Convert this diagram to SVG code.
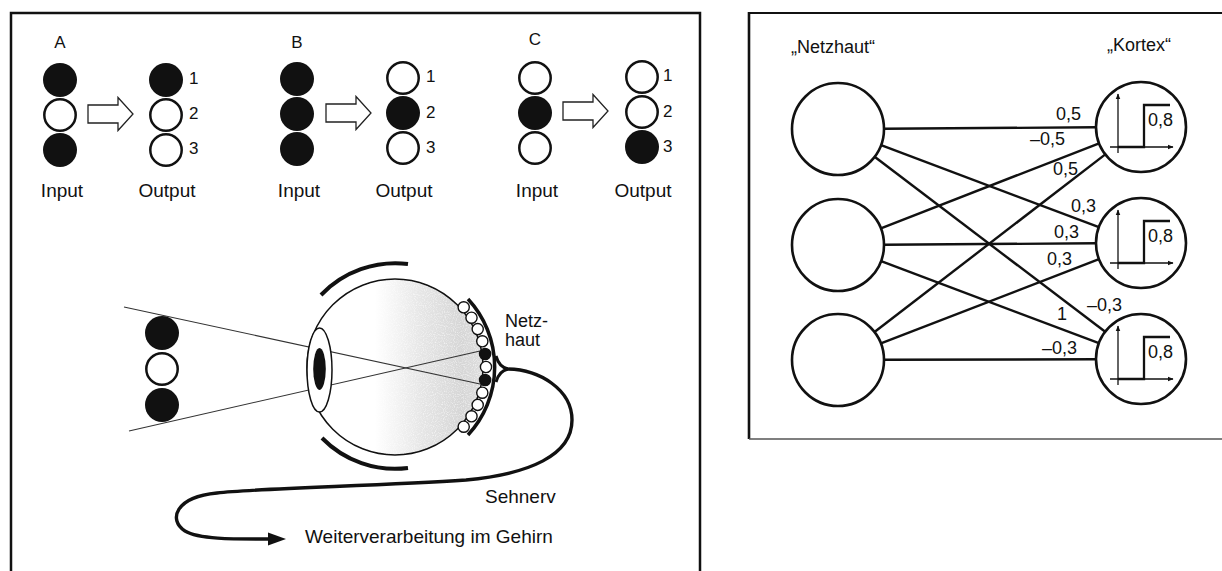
<svg xmlns="http://www.w3.org/2000/svg" width="1222" height="571" viewBox="0 0 1222 571">
  <defs>
    <style>
      .t { font-family: "Liberation Sans", Arial, Helvetica, sans-serif; fill: #111; }
      .lbl { font-size: 19px; }
      .num { font-size: 17px; }
      .w { font-size: 18px; }
      .frame { fill: none; stroke: #111; stroke-width: 2.5; }
      .on { fill: #111; }
      .off { fill: #fff; stroke: #111; stroke-width: 2.5; }
      .hollow { fill: #fff; stroke: #222; stroke-width: 1.3; stroke-linejoin: miter; }
      .edge { stroke: #111; stroke-width: 2.4; fill: none; }
      .node { fill: #fff; stroke: #111; stroke-width: 2.6; }
      .axis { stroke: #111; stroke-width: 1.3; fill: none; }
      .step { stroke: #111; stroke-width: 2.3; fill: none; }
      .ray { stroke: #333; stroke-width: 1.1; fill: none; }
      .thick { stroke: #111; stroke-width: 4; fill: none; stroke-linecap: butt; }
      .nerve { stroke: #111; stroke-width: 3.4; fill: none; stroke-linecap: round; }
      .cell { fill: #fff; stroke: #111; stroke-width: 1.4; }
      .cellon { fill: #111; stroke: #111; stroke-width: 1.4; }
    </style>
    <linearGradient id="shade" gradientUnits="userSpaceOnUse" x1="375" y1="0" x2="490" y2="0">
      <stop offset="0" stop-color="#ffffff"/>
      <stop offset="0.4" stop-color="#e6e6e6"/>
      <stop offset="0.75" stop-color="#d6d6d6"/>
      <stop offset="1" stop-color="#e0e0e0"/>
    </linearGradient>
    <!-- stipple texture for the shaded vitreous body -->
    <filter id="grain" x="0" y="0" width="1" height="1">
      <feTurbulence type="fractalNoise" baseFrequency="0.9" numOctaves="1" seed="3" result="n"/>
      <feColorMatrix in="n" type="matrix" values="0 0 0 0 1  0 0 0 0 1  0 0 0 0 1  0 0 0 1.8 -0.85" result="specks"/>
      <feComposite in="specks" in2="SourceGraphic" operator="in"/>
    </filter>
    <marker id="ah" viewBox="0 0 10 10" refX="9" refY="5" markerWidth="6" markerHeight="6" orient="auto-start-reverse" markerUnits="userSpaceOnUse">
      <path d="M0,1 L10,5 L0,9 Z" fill="#111"/>
    </marker>
    <!-- hollow block arrow used between input and output columns -->
    <path id="blockArrow" d="M0,-9 H30 V-16.5 L45,0 L30,16.5 V9 H0 Z"/>
    <!-- threshold step unit drawn inside each cortex neuron -->
    <g id="stepUnit">
      <line class="axis" x1="-22" y1="26" x2="-22" y2="-33" marker-end="url(#ah)"/>
      <line class="axis" x1="-30" y1="20" x2="33" y2="20" marker-end="url(#ah)"/>
      <polyline class="step" points="-22,20 4,20 4,-22 30,-22"/>
      <text class="t w" x="8" y="-1">0,8</text>
    </g>
  </defs>

  <rect width="1222" height="571" fill="#fff"/>

  <!-- left panel frame (open at the bottom) -->
  <path class="frame" d="M11,571 V13 H700 V571"/>
  <!-- right panel frame (runs off to the right) -->
  <path d="M1222,13 H749" stroke="#111" stroke-width="2" fill="none"/>
  <path d="M749,12 V439" stroke="#111" stroke-width="2.6" fill="none"/>
  <path d="M749,439 H1222" stroke="#555" stroke-width="1.5" fill="none"/>

  <!-- pattern A -->
  <g id="patternA">
    <text class="t num" x="60" y="48" text-anchor="middle">A</text>
    <circle class="on" cx="60" cy="80" r="17"/>
    <circle class="off" cx="60" cy="115" r="15.7"/>
    <circle class="on" cx="60" cy="150" r="17"/>
    <use href="#blockArrow" class="hollow" x="88" y="114"/>
    <circle class="on" cx="166" cy="80" r="17"/>
    <circle class="off" cx="166" cy="115" r="15.7"/>
    <circle class="off" cx="166" cy="150" r="15.7"/>
    <text class="t num" x="189" y="84">1</text>
    <text class="t num" x="189" y="119">2</text>
    <text class="t num" x="189" y="154">3</text>
    <text class="t lbl" x="62" y="197" text-anchor="middle">Input</text>
    <text class="t lbl" x="167" y="197" text-anchor="middle">Output</text>
  </g>

  <!-- pattern B -->
  <g id="patternB">
    <text class="t num" x="297" y="48" text-anchor="middle">B</text>
    <circle class="on" cx="297" cy="79" r="17"/>
    <circle class="on" cx="297" cy="114" r="17"/>
    <circle class="on" cx="297" cy="149" r="17"/>
    <use href="#blockArrow" class="hollow" x="326" y="113"/>
    <circle class="off" cx="403" cy="78" r="15.7"/>
    <circle class="on" cx="403" cy="113" r="17"/>
    <circle class="off" cx="403" cy="148" r="15.7"/>
    <text class="t num" x="426" y="82">1</text>
    <text class="t num" x="426" y="118">2</text>
    <text class="t num" x="426" y="153">3</text>
    <text class="t lbl" x="299" y="197" text-anchor="middle">Input</text>
    <text class="t lbl" x="404" y="197" text-anchor="middle">Output</text>
  </g>

  <!-- pattern C -->
  <g id="patternC">
    <text class="t num" x="535" y="45" text-anchor="middle">C</text>
    <circle class="off" cx="535" cy="78" r="15.7"/>
    <circle class="on" cx="535" cy="113" r="17"/>
    <circle class="off" cx="535" cy="148" r="15.7"/>
    <use href="#blockArrow" class="hollow" x="563" y="111"/>
    <circle class="off" cx="642" cy="77" r="15.7"/>
    <circle class="off" cx="642" cy="112" r="15.7"/>
    <circle class="on" cx="642" cy="147" r="17"/>
    <text class="t num" x="663" y="81">1</text>
    <text class="t num" x="663" y="117">2</text>
    <text class="t num" x="663" y="152">3</text>
    <text class="t lbl" x="537" y="197" text-anchor="middle">Input</text>
    <text class="t lbl" x="643" y="197" text-anchor="middle">Output</text>
  </g>

  <!-- eye cross-section -->
  <g id="eye">
    <circle cx="395" cy="367" r="88" fill="url(#shade)" stroke="#111" stroke-width="1.5"/>
    <circle cx="395" cy="367" r="87" fill="#fff" filter="url(#grain)"/>
    <line class="ray" x1="124" y1="307" x2="480" y2="384"/>
    <line class="ray" x1="129" y1="431" x2="480" y2="351"/>
    <ellipse cx="319.5" cy="370" rx="12.5" ry="42" fill="#fff" stroke="#111" stroke-width="1.5"/>
    <ellipse cx="319.5" cy="369" rx="6.3" ry="21" fill="#111"/>
    <!-- lids -->
    <path class="thick" d="M321,295 A103,103 0 0 1 408,264"/>
    <path class="thick" d="M322,438 A102,102 0 0 0 408,468"/>
    <!-- receptor cells -->
    <circle class="cell" cx="463.7" cy="307.3" r="5.6"/>
    <circle class="cell" cx="471.5" cy="317.7" r="5.6"/>
    <circle class="cell" cx="477.7" cy="329.1" r="5.6"/>
    <circle class="cell" cx="482.3" cy="341.3" r="5.6"/>
    <circle class="cellon" cx="485.1" cy="354" r="5.6"/>
    <circle class="cell" cx="486" cy="367" r="5.6"/>
    <circle class="cellon" cx="485.1" cy="380" r="5.6"/>
    <circle class="cell" cx="482.3" cy="392.7" r="5.6"/>
    <circle class="cell" cx="477.7" cy="404.9" r="5.6"/>
    <circle class="cell" cx="471.5" cy="416.3" r="5.6"/>
    <circle class="cell" cx="463.7" cy="426.7" r="5.6"/>
    <!-- retina -->
    <path d="M468,299 A100,100 0 0 1 468,435" stroke="#111" stroke-width="3.5" fill="none"/>
    <!-- optic nerve -->
    <path d="M496,356 Q499,367 508,369 M496,382 Q499,371 508,369" stroke="#111" stroke-width="3" fill="none"/>
    <path class="nerve" d="M506,369 C540,369 572,390 572,420 C572,455 530,474 466,480 C380,486 260,488 217,493 C175,497 168,520 185,531 C200,540 240,539 270,539"/>
    <polygon points="268,532.5 286,539 268,545.5" fill="#111"/>
    <!-- object -->
    <circle class="on" cx="162" cy="333" r="17"/>
    <circle class="off" cx="162" cy="369" r="15.7"/>
    <circle class="on" cx="162" cy="405" r="17"/>
    <text class="t w" x="505" y="327">Netz-</text>
    <text class="t w" x="505" y="346">haut</text>
    <text class="t lbl" x="485" y="503">Sehnerv</text>
    <text class="t lbl" x="305" y="543">Weiterverarbeitung im Gehirn</text>
  </g>

  <!-- network connections -->
  <g id="connections">
    <line class="edge" x1="884" y1="128.7" x2="1096" y2="127.3"/>
    <line class="edge" x1="881.1" y1="145.2" x2="1098.9" y2="227.2"/>
    <line class="edge" x1="874.6" y1="156.8" x2="1105.2" y2="331.8"/>
    <line class="edge" x1="880.9" y1="228.3" x2="1099.1" y2="143.3"/>
    <line class="edge" x1="884" y1="244.7" x2="1096" y2="243.3"/>
    <line class="edge" x1="881.1" y1="261.2" x2="1098.9" y2="343.2"/>
    <line class="edge" x1="874.5" y1="332" x2="1105.3" y2="154.4"/>
    <line class="edge" x1="880.9" y1="343.4" x2="1099" y2="259.2"/>
    <line class="edge" x1="884" y1="359.7" x2="1096" y2="359.3"/>
    <text class="t w" x="1056" y="120">0,5</text>
    <text class="t w" x="1030" y="145">–0,5</text>
    <text class="t w" x="1053" y="175">0,5</text>
    <text class="t w" x="1071" y="212">0,3</text>
    <text class="t w" x="1054" y="238">0,3</text>
    <text class="t w" x="1047" y="265">0,3</text>
    <text class="t w" x="1087" y="311">–0,3</text>
    <text class="t w" x="1057" y="320">1</text>
    <text class="t w" x="1042" y="354">–0,3</text>
  </g>

  <!-- retina layer -->
  <g id="netzhaut">
    <text class="t w" x="791" y="53">„Netzhaut“</text>
    <circle class="node" cx="838" cy="129" r="46"/>
    <circle class="node" cx="838" cy="245" r="46"/>
    <circle class="node" cx="838" cy="360" r="46"/>
  </g>

  <!-- cortex layer -->
  <g id="kortex">
    <text class="t w" x="1107" y="51">„Kortex“</text>
    <g id="k1">
      <circle class="node" cx="1141" cy="127" r="45"/>
      <use href="#stepUnit" x="1140" y="127"/>
    </g>
    <g id="k2">
      <circle class="node" cx="1141" cy="243" r="45"/>
      <use href="#stepUnit" x="1140" y="243"/>
    </g>
    <g id="k3">
      <circle class="node" cx="1141" cy="359" r="45"/>
      <use href="#stepUnit" x="1140" y="359"/>
    </g>
  </g>
</svg>
